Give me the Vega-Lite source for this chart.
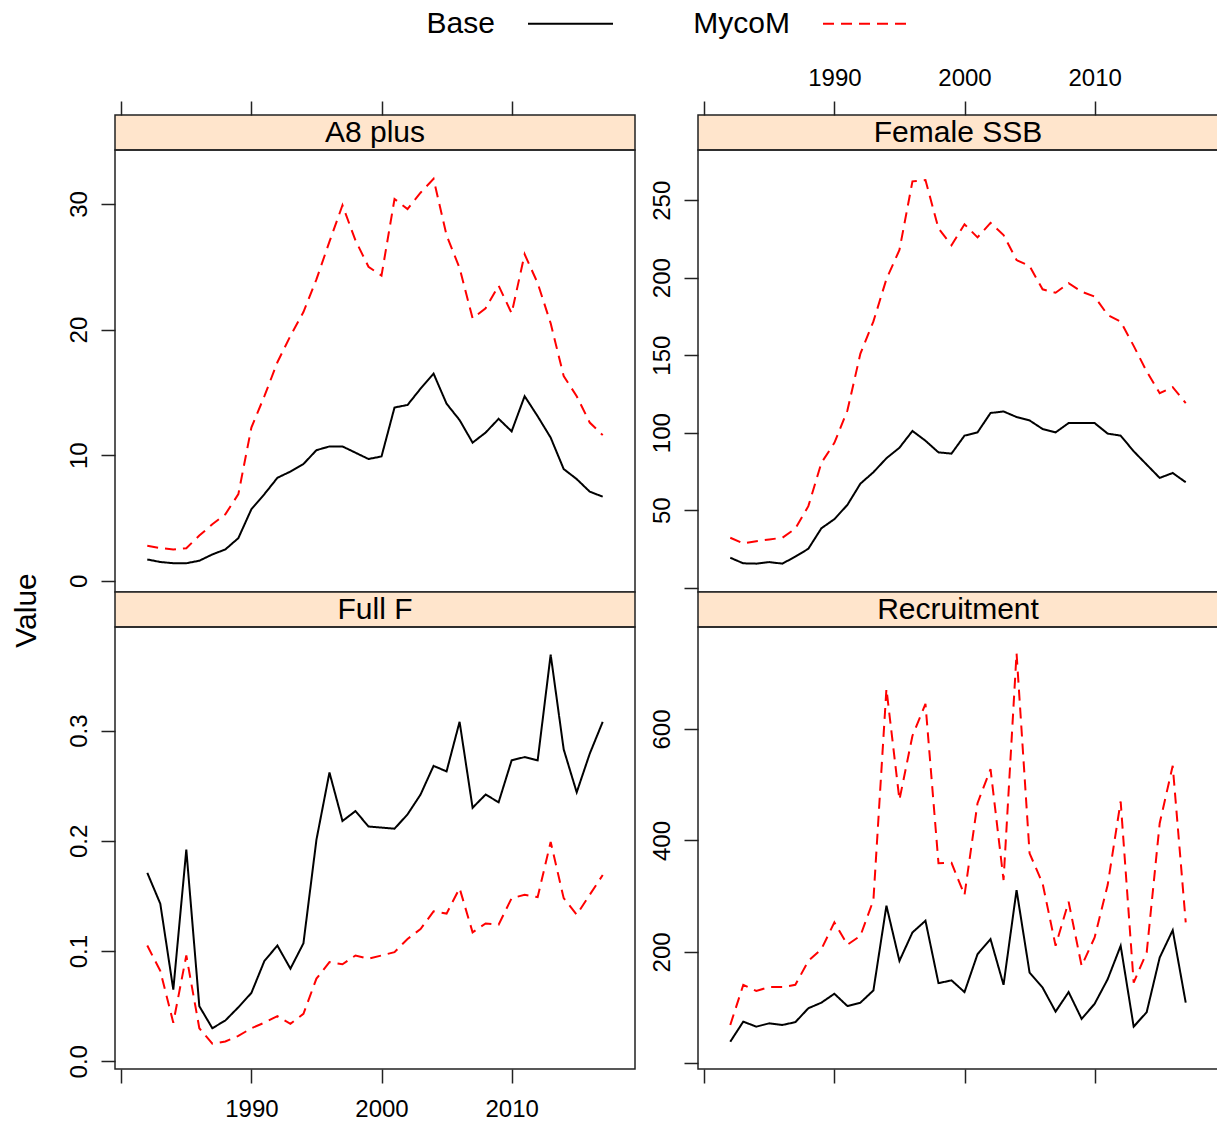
{
  "$schema": "https://vega.github.io/schema/vega-lite/v6.json",
  "padding": {"left": 10, "top": -20, "right": 0, "bottom": 0},
  "background": "white",
  "columns": 2,
  "spacing": {"row": 0, "column": 63},
  "bounds": "flush",
  "datasets": {
    "strips": [
      {"panel": "A8 plus"},
      {"panel": "Female SSB"},
      {"panel": "Full F"},
      {"panel": "Recruitment"}
    ],
    "d": [
      {"panel": "A8 plus", "series": "Base", "year": 1982, "value": 1.7},
      {"panel": "A8 plus", "series": "Base", "year": 1983, "value": 1.5},
      {"panel": "A8 plus", "series": "Base", "year": 1984, "value": 1.4},
      {"panel": "A8 plus", "series": "Base", "year": 1985, "value": 1.4},
      {"panel": "A8 plus", "series": "Base", "year": 1986, "value": 1.6},
      {"panel": "A8 plus", "series": "Base", "year": 1987, "value": 2.1},
      {"panel": "A8 plus", "series": "Base", "year": 1988, "value": 2.5},
      {"panel": "A8 plus", "series": "Base", "year": 1989, "value": 3.4},
      {"panel": "A8 plus", "series": "Base", "year": 1990, "value": 5.7},
      {"panel": "A8 plus", "series": "Base", "year": 1991, "value": 6.9},
      {"panel": "A8 plus", "series": "Base", "year": 1992, "value": 8.2},
      {"panel": "A8 plus", "series": "Base", "year": 1993, "value": 8.7},
      {"panel": "A8 plus", "series": "Base", "year": 1994, "value": 9.3},
      {"panel": "A8 plus", "series": "Base", "year": 1995, "value": 10.4},
      {"panel": "A8 plus", "series": "Base", "year": 1996, "value": 10.7},
      {"panel": "A8 plus", "series": "Base", "year": 1997, "value": 10.7},
      {"panel": "A8 plus", "series": "Base", "year": 1998, "value": 10.2},
      {"panel": "A8 plus", "series": "Base", "year": 1999, "value": 9.7},
      {"panel": "A8 plus", "series": "Base", "year": 2000, "value": 9.9},
      {"panel": "A8 plus", "series": "Base", "year": 2001, "value": 13.8},
      {"panel": "A8 plus", "series": "Base", "year": 2002, "value": 14.0},
      {"panel": "A8 plus", "series": "Base", "year": 2003, "value": 15.3},
      {"panel": "A8 plus", "series": "Base", "year": 2004, "value": 16.5},
      {"panel": "A8 plus", "series": "Base", "year": 2005, "value": 14.1},
      {"panel": "A8 plus", "series": "Base", "year": 2006, "value": 12.8},
      {"panel": "A8 plus", "series": "Base", "year": 2007, "value": 11.0},
      {"panel": "A8 plus", "series": "Base", "year": 2008, "value": 11.8},
      {"panel": "A8 plus", "series": "Base", "year": 2009, "value": 12.9},
      {"panel": "A8 plus", "series": "Base", "year": 2010, "value": 11.9},
      {"panel": "A8 plus", "series": "Base", "year": 2011, "value": 14.7},
      {"panel": "A8 plus", "series": "Base", "year": 2012, "value": 13.1},
      {"panel": "A8 plus", "series": "Base", "year": 2013, "value": 11.4},
      {"panel": "A8 plus", "series": "Base", "year": 2014, "value": 8.9},
      {"panel": "A8 plus", "series": "Base", "year": 2015, "value": 8.1},
      {"panel": "A8 plus", "series": "Base", "year": 2016, "value": 7.1},
      {"panel": "A8 plus", "series": "Base", "year": 2017, "value": 6.7},
      {"panel": "A8 plus", "series": "MycoM", "year": 1982, "value": 2.8},
      {"panel": "A8 plus", "series": "MycoM", "year": 1983, "value": 2.6},
      {"panel": "A8 plus", "series": "MycoM", "year": 1984, "value": 2.5},
      {"panel": "A8 plus", "series": "MycoM", "year": 1985, "value": 2.6},
      {"panel": "A8 plus", "series": "MycoM", "year": 1986, "value": 3.6},
      {"panel": "A8 plus", "series": "MycoM", "year": 1987, "value": 4.5},
      {"panel": "A8 plus", "series": "MycoM", "year": 1988, "value": 5.3},
      {"panel": "A8 plus", "series": "MycoM", "year": 1989, "value": 6.9},
      {"panel": "A8 plus", "series": "MycoM", "year": 1990, "value": 12.2},
      {"panel": "A8 plus", "series": "MycoM", "year": 1991, "value": 14.7},
      {"panel": "A8 plus", "series": "MycoM", "year": 1992, "value": 17.4},
      {"panel": "A8 plus", "series": "MycoM", "year": 1993, "value": 19.5},
      {"panel": "A8 plus", "series": "MycoM", "year": 1994, "value": 21.4},
      {"panel": "A8 plus", "series": "MycoM", "year": 1995, "value": 24.0},
      {"panel": "A8 plus", "series": "MycoM", "year": 1996, "value": 27.0},
      {"panel": "A8 plus", "series": "MycoM", "year": 1997, "value": 29.9},
      {"panel": "A8 plus", "series": "MycoM", "year": 1998, "value": 27.1},
      {"panel": "A8 plus", "series": "MycoM", "year": 1999, "value": 25.0},
      {"panel": "A8 plus", "series": "MycoM", "year": 2000, "value": 24.3},
      {"panel": "A8 plus", "series": "MycoM", "year": 2001, "value": 30.4},
      {"panel": "A8 plus", "series": "MycoM", "year": 2002, "value": 29.6},
      {"panel": "A8 plus", "series": "MycoM", "year": 2003, "value": 30.9},
      {"panel": "A8 plus", "series": "MycoM", "year": 2004, "value": 32.0},
      {"panel": "A8 plus", "series": "MycoM", "year": 2005, "value": 27.5},
      {"panel": "A8 plus", "series": "MycoM", "year": 2006, "value": 24.9},
      {"panel": "A8 plus", "series": "MycoM", "year": 2007, "value": 20.9},
      {"panel": "A8 plus", "series": "MycoM", "year": 2008, "value": 21.7},
      {"panel": "A8 plus", "series": "MycoM", "year": 2009, "value": 23.5},
      {"panel": "A8 plus", "series": "MycoM", "year": 2010, "value": 21.3},
      {"panel": "A8 plus", "series": "MycoM", "year": 2011, "value": 26.0},
      {"panel": "A8 plus", "series": "MycoM", "year": 2012, "value": 23.7},
      {"panel": "A8 plus", "series": "MycoM", "year": 2013, "value": 20.5},
      {"panel": "A8 plus", "series": "MycoM", "year": 2014, "value": 16.3},
      {"panel": "A8 plus", "series": "MycoM", "year": 2015, "value": 14.7},
      {"panel": "A8 plus", "series": "MycoM", "year": 2016, "value": 12.6},
      {"panel": "A8 plus", "series": "MycoM", "year": 2017, "value": 11.6},
      {"panel": "Female SSB", "series": "Base", "year": 1982, "value": 19.3},
      {"panel": "Female SSB", "series": "Base", "year": 1983, "value": 15.7},
      {"panel": "Female SSB", "series": "Base", "year": 1984, "value": 15.5},
      {"panel": "Female SSB", "series": "Base", "year": 1985, "value": 16.5},
      {"panel": "Female SSB", "series": "Base", "year": 1986, "value": 15.5},
      {"panel": "Female SSB", "series": "Base", "year": 1987, "value": 20.0},
      {"panel": "Female SSB", "series": "Base", "year": 1988, "value": 25.1},
      {"panel": "Female SSB", "series": "Base", "year": 1989, "value": 38.3},
      {"panel": "Female SSB", "series": "Base", "year": 1990, "value": 44.2},
      {"panel": "Female SSB", "series": "Base", "year": 1991, "value": 53.4},
      {"panel": "Female SSB", "series": "Base", "year": 1992, "value": 67.1},
      {"panel": "Female SSB", "series": "Base", "year": 1993, "value": 74.5},
      {"panel": "Female SSB", "series": "Base", "year": 1994, "value": 83.5},
      {"panel": "Female SSB", "series": "Base", "year": 1995, "value": 90.3},
      {"panel": "Female SSB", "series": "Base", "year": 1996, "value": 101.1},
      {"panel": "Female SSB", "series": "Base", "year": 1997, "value": 94.8},
      {"panel": "Female SSB", "series": "Base", "year": 1998, "value": 87.3},
      {"panel": "Female SSB", "series": "Base", "year": 1999, "value": 86.5},
      {"panel": "Female SSB", "series": "Base", "year": 2000, "value": 98.1},
      {"panel": "Female SSB", "series": "Base", "year": 2001, "value": 100.2},
      {"panel": "Female SSB", "series": "Base", "year": 2002, "value": 112.7},
      {"panel": "Female SSB", "series": "Base", "year": 2003, "value": 113.7},
      {"panel": "Female SSB", "series": "Base", "year": 2004, "value": 110.1},
      {"panel": "Female SSB", "series": "Base", "year": 2005, "value": 107.9},
      {"panel": "Female SSB", "series": "Base", "year": 2006, "value": 102.4},
      {"panel": "Female SSB", "series": "Base", "year": 2007, "value": 100.2},
      {"panel": "Female SSB", "series": "Base", "year": 2008, "value": 106.2},
      {"panel": "Female SSB", "series": "Base", "year": 2009, "value": 106.2},
      {"panel": "Female SSB", "series": "Base", "year": 2010, "value": 106.2},
      {"panel": "Female SSB", "series": "Base", "year": 2011, "value": 99.4},
      {"panel": "Female SSB", "series": "Base", "year": 2012, "value": 98.1},
      {"panel": "Female SSB", "series": "Base", "year": 2013, "value": 88.0},
      {"panel": "Female SSB", "series": "Base", "year": 2014, "value": 79.4},
      {"panel": "Female SSB", "series": "Base", "year": 2015, "value": 70.8},
      {"panel": "Female SSB", "series": "Base", "year": 2016, "value": 74.0},
      {"panel": "Female SSB", "series": "Base", "year": 2017, "value": 68.0},
      {"panel": "Female SSB", "series": "MycoM", "year": 1982, "value": 32.2},
      {"panel": "Female SSB", "series": "MycoM", "year": 1983, "value": 28.5},
      {"panel": "Female SSB", "series": "MycoM", "year": 1984, "value": 30.0},
      {"panel": "Female SSB", "series": "MycoM", "year": 1985, "value": 31.1},
      {"panel": "Female SSB", "series": "MycoM", "year": 1986, "value": 32.2},
      {"panel": "Female SSB", "series": "MycoM", "year": 1987, "value": 38.1},
      {"panel": "Female SSB", "series": "MycoM", "year": 1988, "value": 52.6},
      {"panel": "Female SSB", "series": "MycoM", "year": 1989, "value": 80.5},
      {"panel": "Female SSB", "series": "MycoM", "year": 1990, "value": 93.4},
      {"panel": "Female SSB", "series": "MycoM", "year": 1991, "value": 114.3},
      {"panel": "Female SSB", "series": "MycoM", "year": 1992, "value": 151.0},
      {"panel": "Female SSB", "series": "MycoM", "year": 1993, "value": 171.8},
      {"panel": "Female SSB", "series": "MycoM", "year": 1994, "value": 199.1},
      {"panel": "Female SSB", "series": "MycoM", "year": 1995, "value": 217.9},
      {"panel": "Female SSB", "series": "MycoM", "year": 1996, "value": 262.2},
      {"panel": "Female SSB", "series": "MycoM", "year": 1997, "value": 263.0},
      {"panel": "Female SSB", "series": "MycoM", "year": 1998, "value": 231.8},
      {"panel": "Female SSB", "series": "MycoM", "year": 1999, "value": 221.0},
      {"panel": "Female SSB", "series": "MycoM", "year": 2000, "value": 234.5},
      {"panel": "Female SSB", "series": "MycoM", "year": 2001, "value": 226.0},
      {"panel": "Female SSB", "series": "MycoM", "year": 2002, "value": 235.4},
      {"panel": "Female SSB", "series": "MycoM", "year": 2003, "value": 227.5},
      {"panel": "Female SSB", "series": "MycoM", "year": 2004, "value": 211.4},
      {"panel": "Female SSB", "series": "MycoM", "year": 2005, "value": 207.5},
      {"panel": "Female SSB", "series": "MycoM", "year": 2006, "value": 192.5},
      {"panel": "Female SSB", "series": "MycoM", "year": 2007, "value": 190.3},
      {"panel": "Female SSB", "series": "MycoM", "year": 2008, "value": 196.4},
      {"panel": "Female SSB", "series": "MycoM", "year": 2009, "value": 191.0},
      {"panel": "Female SSB", "series": "MycoM", "year": 2010, "value": 187.8},
      {"panel": "Female SSB", "series": "MycoM", "year": 2011, "value": 176.0},
      {"panel": "Female SSB", "series": "MycoM", "year": 2012, "value": 171.7},
      {"panel": "Female SSB", "series": "MycoM", "year": 2013, "value": 156.0},
      {"panel": "Female SSB", "series": "MycoM", "year": 2014, "value": 139.5},
      {"panel": "Female SSB", "series": "MycoM", "year": 2015, "value": 125.5},
      {"panel": "Female SSB", "series": "MycoM", "year": 2016, "value": 129.4},
      {"panel": "Female SSB", "series": "MycoM", "year": 2017, "value": 119.1},
      {"panel": "Full F", "series": "Base", "year": 1982, "value": 0.171},
      {"panel": "Full F", "series": "Base", "year": 1983, "value": 0.143},
      {"panel": "Full F", "series": "Base", "year": 1984, "value": 0.065},
      {"panel": "Full F", "series": "Base", "year": 1985, "value": 0.192},
      {"panel": "Full F", "series": "Base", "year": 1986, "value": 0.050},
      {"panel": "Full F", "series": "Base", "year": 1987, "value": 0.030},
      {"panel": "Full F", "series": "Base", "year": 1988, "value": 0.037},
      {"panel": "Full F", "series": "Base", "year": 1989, "value": 0.049},
      {"panel": "Full F", "series": "Base", "year": 1990, "value": 0.062},
      {"panel": "Full F", "series": "Base", "year": 1991, "value": 0.091},
      {"panel": "Full F", "series": "Base", "year": 1992, "value": 0.105},
      {"panel": "Full F", "series": "Base", "year": 1993, "value": 0.084},
      {"panel": "Full F", "series": "Base", "year": 1994, "value": 0.107},
      {"panel": "Full F", "series": "Base", "year": 1995, "value": 0.201},
      {"panel": "Full F", "series": "Base", "year": 1996, "value": 0.262},
      {"panel": "Full F", "series": "Base", "year": 1997, "value": 0.218},
      {"panel": "Full F", "series": "Base", "year": 1998, "value": 0.227},
      {"panel": "Full F", "series": "Base", "year": 1999, "value": 0.213},
      {"panel": "Full F", "series": "Base", "year": 2000, "value": 0.212},
      {"panel": "Full F", "series": "Base", "year": 2001, "value": 0.211},
      {"panel": "Full F", "series": "Base", "year": 2002, "value": 0.224},
      {"panel": "Full F", "series": "Base", "year": 2003, "value": 0.242},
      {"panel": "Full F", "series": "Base", "year": 2004, "value": 0.268},
      {"panel": "Full F", "series": "Base", "year": 2005, "value": 0.263},
      {"panel": "Full F", "series": "Base", "year": 2006, "value": 0.308},
      {"panel": "Full F", "series": "Base", "year": 2007, "value": 0.230},
      {"panel": "Full F", "series": "Base", "year": 2008, "value": 0.242},
      {"panel": "Full F", "series": "Base", "year": 2009, "value": 0.235},
      {"panel": "Full F", "series": "Base", "year": 2010, "value": 0.273},
      {"panel": "Full F", "series": "Base", "year": 2011, "value": 0.276},
      {"panel": "Full F", "series": "Base", "year": 2012, "value": 0.273},
      {"panel": "Full F", "series": "Base", "year": 2013, "value": 0.369},
      {"panel": "Full F", "series": "Base", "year": 2014, "value": 0.283},
      {"panel": "Full F", "series": "Base", "year": 2015, "value": 0.244},
      {"panel": "Full F", "series": "Base", "year": 2016, "value": 0.279},
      {"panel": "Full F", "series": "Base", "year": 2017, "value": 0.308},
      {"panel": "Full F", "series": "MycoM", "year": 1982, "value": 0.105},
      {"panel": "Full F", "series": "MycoM", "year": 1983, "value": 0.082},
      {"panel": "Full F", "series": "MycoM", "year": 1984, "value": 0.035},
      {"panel": "Full F", "series": "MycoM", "year": 1985, "value": 0.096},
      {"panel": "Full F", "series": "MycoM", "year": 1986, "value": 0.030},
      {"panel": "Full F", "series": "MycoM", "year": 1987, "value": 0.016},
      {"panel": "Full F", "series": "MycoM", "year": 1988, "value": 0.018},
      {"panel": "Full F", "series": "MycoM", "year": 1989, "value": 0.023},
      {"panel": "Full F", "series": "MycoM", "year": 1990, "value": 0.030},
      {"panel": "Full F", "series": "MycoM", "year": 1991, "value": 0.035},
      {"panel": "Full F", "series": "MycoM", "year": 1992, "value": 0.041},
      {"panel": "Full F", "series": "MycoM", "year": 1993, "value": 0.034},
      {"panel": "Full F", "series": "MycoM", "year": 1994, "value": 0.043},
      {"panel": "Full F", "series": "MycoM", "year": 1995, "value": 0.075},
      {"panel": "Full F", "series": "MycoM", "year": 1996, "value": 0.090},
      {"panel": "Full F", "series": "MycoM", "year": 1997, "value": 0.088},
      {"panel": "Full F", "series": "MycoM", "year": 1998, "value": 0.096},
      {"panel": "Full F", "series": "MycoM", "year": 1999, "value": 0.093},
      {"panel": "Full F", "series": "MycoM", "year": 2000, "value": 0.096},
      {"panel": "Full F", "series": "MycoM", "year": 2001, "value": 0.099},
      {"panel": "Full F", "series": "MycoM", "year": 2002, "value": 0.111},
      {"panel": "Full F", "series": "MycoM", "year": 2003, "value": 0.120},
      {"panel": "Full F", "series": "MycoM", "year": 2004, "value": 0.136},
      {"panel": "Full F", "series": "MycoM", "year": 2005, "value": 0.134},
      {"panel": "Full F", "series": "MycoM", "year": 2006, "value": 0.157},
      {"panel": "Full F", "series": "MycoM", "year": 2007, "value": 0.117},
      {"panel": "Full F", "series": "MycoM", "year": 2008, "value": 0.125},
      {"panel": "Full F", "series": "MycoM", "year": 2009, "value": 0.124},
      {"panel": "Full F", "series": "MycoM", "year": 2010, "value": 0.148},
      {"panel": "Full F", "series": "MycoM", "year": 2011, "value": 0.151},
      {"panel": "Full F", "series": "MycoM", "year": 2012, "value": 0.149},
      {"panel": "Full F", "series": "MycoM", "year": 2013, "value": 0.199},
      {"panel": "Full F", "series": "MycoM", "year": 2014, "value": 0.148},
      {"panel": "Full F", "series": "MycoM", "year": 2015, "value": 0.133},
      {"panel": "Full F", "series": "MycoM", "year": 2016, "value": 0.151},
      {"panel": "Full F", "series": "MycoM", "year": 2017, "value": 0.169},
      {"panel": "Recruitment", "series": "Base", "year": 1982, "value": 39},
      {"panel": "Recruitment", "series": "Base", "year": 1983, "value": 75},
      {"panel": "Recruitment", "series": "Base", "year": 1984, "value": 66},
      {"panel": "Recruitment", "series": "Base", "year": 1985, "value": 72},
      {"panel": "Recruitment", "series": "Base", "year": 1986, "value": 69},
      {"panel": "Recruitment", "series": "Base", "year": 1987, "value": 74},
      {"panel": "Recruitment", "series": "Base", "year": 1988, "value": 99},
      {"panel": "Recruitment", "series": "Base", "year": 1989, "value": 109},
      {"panel": "Recruitment", "series": "Base", "year": 1990, "value": 125},
      {"panel": "Recruitment", "series": "Base", "year": 1991, "value": 103},
      {"panel": "Recruitment", "series": "Base", "year": 1992, "value": 109},
      {"panel": "Recruitment", "series": "Base", "year": 1993, "value": 131},
      {"panel": "Recruitment", "series": "Base", "year": 1994, "value": 283},
      {"panel": "Recruitment", "series": "Base", "year": 1995, "value": 184},
      {"panel": "Recruitment", "series": "Base", "year": 1996, "value": 235},
      {"panel": "Recruitment", "series": "Base", "year": 1997, "value": 256},
      {"panel": "Recruitment", "series": "Base", "year": 1998, "value": 144},
      {"panel": "Recruitment", "series": "Base", "year": 1999, "value": 149},
      {"panel": "Recruitment", "series": "Base", "year": 2000, "value": 128},
      {"panel": "Recruitment", "series": "Base", "year": 2001, "value": 196},
      {"panel": "Recruitment", "series": "Base", "year": 2002, "value": 223},
      {"panel": "Recruitment", "series": "Base", "year": 2003, "value": 141},
      {"panel": "Recruitment", "series": "Base", "year": 2004, "value": 311},
      {"panel": "Recruitment", "series": "Base", "year": 2005, "value": 163},
      {"panel": "Recruitment", "series": "Base", "year": 2006, "value": 136},
      {"panel": "Recruitment", "series": "Base", "year": 2007, "value": 93},
      {"panel": "Recruitment", "series": "Base", "year": 2008, "value": 128},
      {"panel": "Recruitment", "series": "Base", "year": 2009, "value": 80},
      {"panel": "Recruitment", "series": "Base", "year": 2010, "value": 107},
      {"panel": "Recruitment", "series": "Base", "year": 2011, "value": 151},
      {"panel": "Recruitment", "series": "Base", "year": 2012, "value": 211},
      {"panel": "Recruitment", "series": "Base", "year": 2013, "value": 66},
      {"panel": "Recruitment", "series": "Base", "year": 2014, "value": 92},
      {"panel": "Recruitment", "series": "Base", "year": 2015, "value": 190},
      {"panel": "Recruitment", "series": "Base", "year": 2016, "value": 239},
      {"panel": "Recruitment", "series": "Base", "year": 2017, "value": 109},
      {"panel": "Recruitment", "series": "MycoM", "year": 1982, "value": 69},
      {"panel": "Recruitment", "series": "MycoM", "year": 1983, "value": 141},
      {"panel": "Recruitment", "series": "MycoM", "year": 1984, "value": 130},
      {"panel": "Recruitment", "series": "MycoM", "year": 1985, "value": 137},
      {"panel": "Recruitment", "series": "MycoM", "year": 1986, "value": 137},
      {"panel": "Recruitment", "series": "MycoM", "year": 1987, "value": 141},
      {"panel": "Recruitment", "series": "MycoM", "year": 1988, "value": 184},
      {"panel": "Recruitment", "series": "MycoM", "year": 1989, "value": 205},
      {"panel": "Recruitment", "series": "MycoM", "year": 1990, "value": 253},
      {"panel": "Recruitment", "series": "MycoM", "year": 1991, "value": 213},
      {"panel": "Recruitment", "series": "MycoM", "year": 1992, "value": 229},
      {"panel": "Recruitment", "series": "MycoM", "year": 1993, "value": 293},
      {"panel": "Recruitment", "series": "MycoM", "year": 1994, "value": 672},
      {"panel": "Recruitment", "series": "MycoM", "year": 1995, "value": 473},
      {"panel": "Recruitment", "series": "MycoM", "year": 1996, "value": 588},
      {"panel": "Recruitment", "series": "MycoM", "year": 1997, "value": 645},
      {"panel": "Recruitment", "series": "MycoM", "year": 1998, "value": 359},
      {"panel": "Recruitment", "series": "MycoM", "year": 1999, "value": 360},
      {"panel": "Recruitment", "series": "MycoM", "year": 2000, "value": 302},
      {"panel": "Recruitment", "series": "MycoM", "year": 2001, "value": 467},
      {"panel": "Recruitment", "series": "MycoM", "year": 2002, "value": 528},
      {"panel": "Recruitment", "series": "MycoM", "year": 2003, "value": 329},
      {"panel": "Recruitment", "series": "MycoM", "year": 2004, "value": 736},
      {"panel": "Recruitment", "series": "MycoM", "year": 2005, "value": 377},
      {"panel": "Recruitment", "series": "MycoM", "year": 2006, "value": 323},
      {"panel": "Recruitment", "series": "MycoM", "year": 2007, "value": 211},
      {"panel": "Recruitment", "series": "MycoM", "year": 2008, "value": 290},
      {"panel": "Recruitment", "series": "MycoM", "year": 2009, "value": 175},
      {"panel": "Recruitment", "series": "MycoM", "year": 2010, "value": 226},
      {"panel": "Recruitment", "series": "MycoM", "year": 2011, "value": 320},
      {"panel": "Recruitment", "series": "MycoM", "year": 2012, "value": 470},
      {"panel": "Recruitment", "series": "MycoM", "year": 2013, "value": 145},
      {"panel": "Recruitment", "series": "MycoM", "year": 2014, "value": 199},
      {"panel": "Recruitment", "series": "MycoM", "year": 2015, "value": 431},
      {"panel": "Recruitment", "series": "MycoM", "year": 2016, "value": 534},
      {"panel": "Recruitment", "series": "MycoM", "year": 2017, "value": 253}
    ]
  },
  "concat": [
    {
      "width": 520, "height": 35,
      "view": {"fill": "#FFE5CC", "stroke": "#222222", "strokeWidth": 1.5},
      "data": {"name": "strips"},
      "transform": [{"filter": "datum.panel === 'A8 plus'"}],
      "mark": {"type": "text", "fontSize": 30, "color": "#000000", "font": "Liberation Sans"},
      "encoding": {"text": {"field": "panel", "type": "nominal"}}
    },
    {
      "width": 520, "height": 35,
      "view": {"fill": "#FFE5CC", "stroke": "#222222", "strokeWidth": 1.5},
      "data": {"name": "strips"},
      "transform": [{"filter": "datum.panel === 'Female SSB'"}],
      "mark": {"type": "text", "fontSize": 30, "color": "#000000", "font": "Liberation Sans"},
      "encoding": {"text": {"field": "panel", "type": "nominal"}}
    },
    {
      "width": 520, "height": 442,
      "view": {"stroke": "#222222", "strokeWidth": 1.5},
      "data": {"name": "d"},
      "transform": [{"filter": "datum.panel === 'A8 plus'"}],
      "mark": {"type": "line", "strokeWidth": 2},
      "encoding": {
        "x": {"field": "year", "type": "quantitative", "scale": {"domain": [1979.52, 2019.48], "nice": false, "zero": false},
              "axis": {"orient": "top", "offset": 35, "values": [1980, 1990, 2000, 2010], "labels": false, "title": null}},
        "y": {"field": "value", "type": "quantitative", "scale": {"domain": [-0.89, 34.3], "nice": false, "zero": false},
              "axis": {"values": [0, 10, 20, 30], "labelAngle": -90, "labelAlign": "center", "labelBaseline": "bottom", "labelPadding": 10, "title": null}},
        "color": {"field": "series", "type": "nominal", "scale": {"domain": ["Base", "MycoM"], "range": ["#000000", "#ff0000"]},
                  "legend": {"orient": "none", "legendX": 412, "legendY": -135, "direction": "horizontal", "title": null, "symbolType": "stroke", "symbolSize": 7225, "symbolStrokeWidth": 2, "labelFontSize": 30, "labelColor": "#000000", "labelFont": "Liberation Sans", "labelAlign": "right", "labelOffset": -119, "columnPadding": 76, "labelLimit": 0}},
        "strokeDash": {"field": "series", "type": "nominal", "scale": {"domain": ["Base", "MycoM"], "range": [[1, 0], [11, 7]]},
                  "legend": {"orient": "none", "legendX": 412, "legendY": -135, "direction": "horizontal", "title": null, "symbolType": "stroke", "symbolSize": 7225, "symbolStrokeWidth": 2, "labelFontSize": 30, "labelColor": "#000000", "labelFont": "Liberation Sans", "labelAlign": "right", "labelOffset": -119, "columnPadding": 76, "labelLimit": 0}}
      }
    },
    {
      "width": 520, "height": 442,
      "view": {"stroke": "#222222", "strokeWidth": 1.5},
      "data": {"name": "d"},
      "transform": [{"filter": "datum.panel === 'Female SSB'"}],
      "mark": {"type": "line", "strokeWidth": 2},
      "encoding": {
        "x": {"field": "year", "type": "quantitative", "scale": {"domain": [1979.52, 2019.48], "nice": false, "zero": false},
              "axis": {"orient": "top", "offset": 35, "values": [1980, 1990, 2000, 2010], "labelExpr": "datum.value == 1980 ? '' : datum.label", "format": "d", "labelPadding": 11, "title": null}},
        "y": {"field": "value", "type": "quantitative", "scale": {"domain": [-2.8, 282.4], "nice": false, "zero": false},
              "axis": {"values": [0, 50, 100, 150, 200, 250], "labelExpr": "datum.value == 0 ? '' : datum.label", "labelAngle": -90, "labelAlign": "center", "labelBaseline": "bottom", "labelPadding": 10, "title": null}},
        "color": {"field": "series", "type": "nominal", "scale": {"domain": ["Base", "MycoM"], "range": ["#000000", "#ff0000"]},
                  "legend": {"orient": "none", "legendX": 412, "legendY": -135, "direction": "horizontal", "title": null, "symbolType": "stroke", "symbolSize": 7225, "symbolStrokeWidth": 2, "labelFontSize": 30, "labelColor": "#000000", "labelFont": "Liberation Sans", "labelAlign": "right", "labelOffset": -119, "columnPadding": 76, "labelLimit": 0}},
        "strokeDash": {"field": "series", "type": "nominal", "scale": {"domain": ["Base", "MycoM"], "range": [[1, 0], [11, 7]]},
                  "legend": {"orient": "none", "legendX": 412, "legendY": -135, "direction": "horizontal", "title": null, "symbolType": "stroke", "symbolSize": 7225, "symbolStrokeWidth": 2, "labelFontSize": 30, "labelColor": "#000000", "labelFont": "Liberation Sans", "labelAlign": "right", "labelOffset": -119, "columnPadding": 76, "labelLimit": 0}}
      }
    },
    {
      "width": 520, "height": 35,
      "view": {"fill": "#FFE5CC", "stroke": "#222222", "strokeWidth": 1.5},
      "data": {"name": "strips"},
      "transform": [{"filter": "datum.panel === 'Full F'"}],
      "mark": {"type": "text", "fontSize": 30, "color": "#000000", "font": "Liberation Sans"},
      "encoding": {"text": {"field": "panel", "type": "nominal"}}
    },
    {
      "width": 520, "height": 35,
      "view": {"fill": "#FFE5CC", "stroke": "#222222", "strokeWidth": 1.5},
      "data": {"name": "strips"},
      "transform": [{"filter": "datum.panel === 'Recruitment'"}],
      "mark": {"type": "text", "fontSize": 30, "color": "#000000", "font": "Liberation Sans"},
      "encoding": {"text": {"field": "panel", "type": "nominal"}}
    },
    {
      "width": 520, "height": 442,
      "view": {"stroke": "#222222", "strokeWidth": 1.5},
      "data": {"name": "d"},
      "transform": [{"filter": "datum.panel === 'Full F'"}],
      "mark": {"type": "line", "strokeWidth": 2},
      "encoding": {
        "x": {"field": "year", "type": "quantitative", "scale": {"domain": [1979.52, 2019.48], "nice": false, "zero": false},
              "axis": {"orient": "bottom", "values": [1980, 1990, 2000, 2010], "labelExpr": "datum.value == 1980 ? '' : datum.label", "format": "d", "labelPadding": 14, "title": null}},
        "y": {"field": "value", "type": "quantitative", "scale": {"domain": [-0.007, 0.394], "nice": false, "zero": false},
              "axis": {"values": [0, 0.1, 0.2, 0.3], "format": ".1f", "labelAngle": -90, "labelAlign": "center", "labelBaseline": "bottom", "labelPadding": 10,
                       "title": "Value", "titleFontSize": 30, "titleFont": "Liberation Sans", "titleFontWeight": "normal", "titleColor": "#000000", "titleAngle": -90, "titleAlign": "center", "titleBaseline": "middle", "titleX": -89, "titleY": -17}},
        "color": {"field": "series", "type": "nominal", "scale": {"domain": ["Base", "MycoM"], "range": ["#000000", "#ff0000"]},
                  "legend": {"orient": "none", "legendX": 412, "legendY": -135, "direction": "horizontal", "title": null, "symbolType": "stroke", "symbolSize": 7225, "symbolStrokeWidth": 2, "labelFontSize": 30, "labelColor": "#000000", "labelFont": "Liberation Sans", "labelAlign": "right", "labelOffset": -119, "columnPadding": 76, "labelLimit": 0}},
        "strokeDash": {"field": "series", "type": "nominal", "scale": {"domain": ["Base", "MycoM"], "range": [[1, 0], [11, 7]]},
                  "legend": {"orient": "none", "legendX": 412, "legendY": -135, "direction": "horizontal", "title": null, "symbolType": "stroke", "symbolSize": 7225, "symbolStrokeWidth": 2, "labelFontSize": 30, "labelColor": "#000000", "labelFont": "Liberation Sans", "labelAlign": "right", "labelOffset": -119, "columnPadding": 76, "labelLimit": 0}}
      }
    },
    {
      "width": 520, "height": 442,
      "view": {"stroke": "#222222", "strokeWidth": 1.5},
      "data": {"name": "d"},
      "transform": [{"filter": "datum.panel === 'Recruitment'"}],
      "mark": {"type": "line", "strokeWidth": 2},
      "encoding": {
        "x": {"field": "year", "type": "quantitative", "scale": {"domain": [1979.52, 2019.48], "nice": false, "zero": false},
              "axis": {"orient": "bottom", "values": [1980, 1990, 2000, 2010], "labels": false, "title": null}},
        "y": {"field": "value", "type": "quantitative", "scale": {"domain": [-10, 783], "nice": false, "zero": false},
              "axis": {"values": [0, 200, 400, 600], "labelExpr": "datum.value == 0 ? '' : datum.label", "labelAngle": -90, "labelAlign": "center", "labelBaseline": "bottom", "labelPadding": 10, "title": null}},
        "color": {"field": "series", "type": "nominal", "scale": {"domain": ["Base", "MycoM"], "range": ["#000000", "#ff0000"]},
                  "legend": {"orient": "none", "legendX": 412, "legendY": -135, "direction": "horizontal", "title": null, "symbolType": "stroke", "symbolSize": 7225, "symbolStrokeWidth": 2, "labelFontSize": 30, "labelColor": "#000000", "labelFont": "Liberation Sans", "labelAlign": "right", "labelOffset": -119, "columnPadding": 76, "labelLimit": 0}},
        "strokeDash": {"field": "series", "type": "nominal", "scale": {"domain": ["Base", "MycoM"], "range": [[1, 0], [11, 7]]},
                  "legend": {"orient": "none", "legendX": 412, "legendY": -135, "direction": "horizontal", "title": null, "symbolType": "stroke", "symbolSize": 7225, "symbolStrokeWidth": 2, "labelFontSize": 30, "labelColor": "#000000", "labelFont": "Liberation Sans", "labelAlign": "right", "labelOffset": -119, "columnPadding": 76, "labelLimit": 0}}
      }
    }
  ],
  "config": {
    "font": "Liberation Sans",
    "axis": {"domain": false, "grid": false, "tickColor": "#222222", "tickWidth": 1.5, "tickSize": 14, "labelFontSize": 24, "labelColor": "#000000", "labelFont": "Liberation Sans"}
  }
}
